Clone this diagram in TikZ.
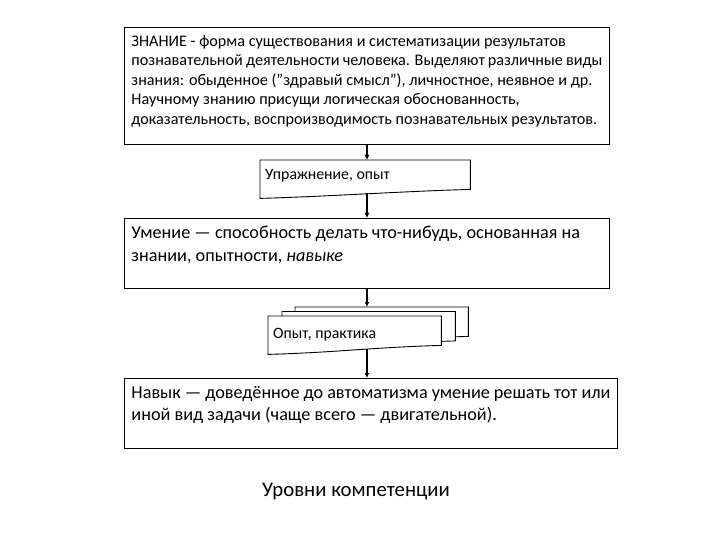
\documentclass[tikz,border=0pt]{standalone}
\usepackage{fontspec}
\setmainfont{Carlito}
\usetikzlibrary{arrows.meta}

\newcommand{\fsmall}{\fontsize{16.2}{19.5}\selectfont}
\newcommand{\fbig}{\fontsize{18.2}{22.5}\selectfont}
% sheet with a wavy lower edge, shifted from a node
\newcommand{\docsheet}[3]{%
  \draw[sheet] ([shift={(#2,#3)}]#1.north west) -- ([shift={(#2,#3)}]#1.north east)
    -- ([shift={(#2,#3+4pt)}]#1.south east)
    .. controls +(-70pt,-2pt) and +(70pt,2pt) .. ([shift={(#2,#3-5pt)}]#1.south west)
    -- cycle;}

\begin{document}
\begin{tikzpicture}[x=1pt,y=-1pt,
  infobox/.style={draw, line width=0.9pt, anchor=north west, inner xsep=7pt, inner ysep=8pt},
  docbox/.style={anchor=north west, inner xsep=5pt, inner ysep=0pt, align=left},
  sheet/.style={draw, fill=white, line width=0.9pt},
  arr/.style={-{Latex[length=5pt,width=5pt]}, line width=1.3pt}]

\useasboundingbox (0,0) rectangle (720,540);

% Knowledge
\node[infobox, font=\fsmall] (znanie) at (124,27)
  {\parbox[t][101pt][t]{471pt}{ЗНАНИЕ - форма существования и систематизации результатов\\
  познавательной  деятельности человека. Выделяют различные виды\\
  знания: обыденное ("здравый  смысл"), личностное, неявное и др.\\
  Научному знанию присущи логическая  обоснованность,\\
  доказательность, воспроизводимость познавательных  результатов.}};

% Exercise (document)
\node[docbox, minimum width=210pt, minimum height=33pt] (uprazhnenie) at (260,160) {};
\docsheet{uprazhnenie}{0pt}{0pt}
\node[docbox, font=\fontsize{15.8}{18}\selectfont] (uprazhnenie-label) at (260,169) {Упражнение, опыт};

% Skill
\node[infobox, font=\fbig] (umenie) at (124,218)
  {\parbox[t][54pt][t]{471pt}{Умение — способность делать что-нибудь, основанная на\\
  знании, опытности, \textit{навыке}}};

% Practice (stack of documents)
\node[docbox, minimum width=173pt, minimum height=33pt] (opyt) at (268,316) {};
\docsheet{opyt}{27pt}{9pt}
\docsheet{opyt}{14pt}{4.5pt}
\docsheet{opyt}{0pt}{0pt}
\node[docbox, font=\fontsize{15.8}{18}\selectfont] (opyt-label) at (268,328) {Опыт, практика};

% Habit
\node[infobox, font=\fbig] (navyk) at (124,378)
  {\parbox[t][54pt][t]{479pt}{Навык — доведённое до автоматизма умение решать тот или\\
  иной вид задачи (чаще всего — двигательной).}};

% Caption
\node[font=\fontsize{20.8}{24}\selectfont] (urovni) at (356,492) {Уровни компетенции};

% Arrows
\draw[arr] (znanie.south) -- (znanie.south |- uprazhnenie.north);
\draw[arr] (znanie.south |- uprazhnenie.south) -- (znanie.south |- umenie.north);
\draw[arr] (umenie.south) -- ([yshift=9pt]umenie.south |- opyt.north);
\draw[arr] (umenie.south |- opyt.south) -- (umenie.south |- navyk.north);

\end{tikzpicture}
\end{document}
